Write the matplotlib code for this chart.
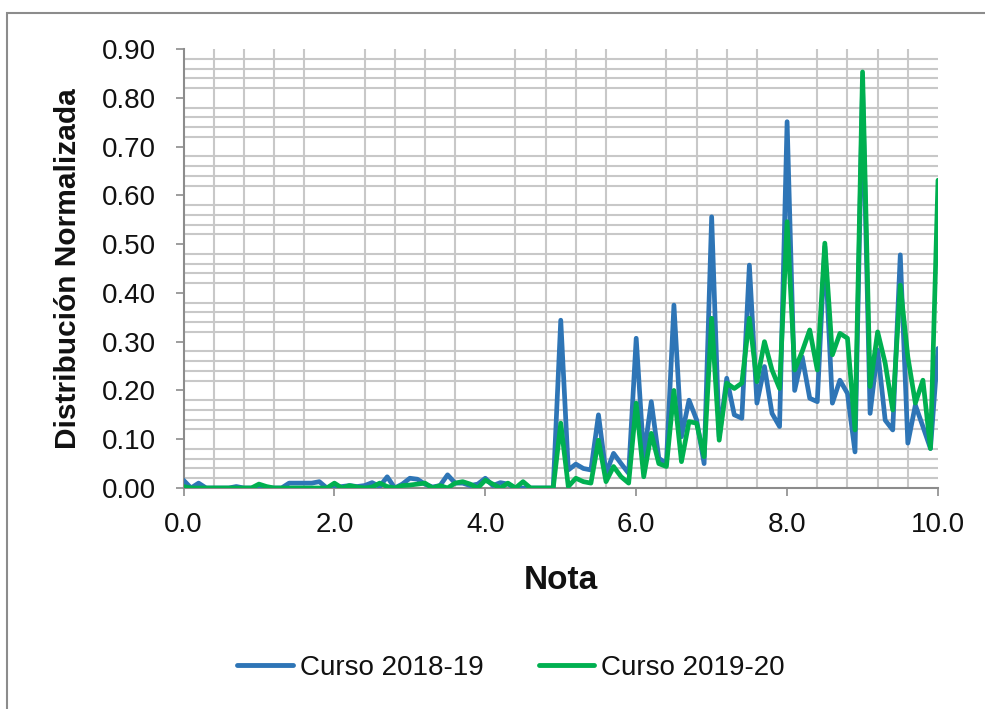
import numpy as np
import matplotlib
matplotlib.use("Agg")
import matplotlib.pyplot as plt
from matplotlib.ticker import MultipleLocator, FixedLocator
from matplotlib.patches import Rectangle

# ---------------- data ----------------
notas = np.linspace(0.0, 10.0, 101)

curso_2018_19 = [
    0.016, 0.000, 0.010, 0.000, 0.000, 0.000, 0.000, 0.003, 0.000, 0.000,   # 0.0-0.9
    0.000, 0.000, 0.000, 0.000, 0.010, 0.010, 0.010, 0.010, 0.013, 0.000,   # 1.0-1.9
    0.000, 0.003, 0.005, 0.003, 0.005, 0.011, 0.003, 0.023, 0.000, 0.008,   # 2.0-2.9
    0.020, 0.018, 0.008, 0.002, 0.005, 0.027, 0.010, 0.010, 0.005, 0.008,   # 3.0-3.9
    0.020, 0.005, 0.011, 0.008, 0.000, 0.000, 0.000, 0.000, 0.000, 0.000,   # 4.0-4.9
    0.344, 0.037, 0.049, 0.040, 0.037, 0.150, 0.030, 0.071, 0.050, 0.030,   # 5.0-5.9
    0.307, 0.064, 0.177, 0.061, 0.050, 0.375, 0.105, 0.180, 0.140, 0.050,   # 6.0-6.9
    0.556, 0.105, 0.225, 0.150, 0.143, 0.457, 0.174, 0.249, 0.153, 0.126,   # 7.0-7.9
    0.751, 0.200, 0.269, 0.184, 0.177, 0.495, 0.174, 0.221, 0.194, 0.074,   # 8.0-8.9
    0.820, 0.153, 0.283, 0.139, 0.119, 0.478, 0.092, 0.170, 0.126, 0.081,   # 9.0-9.9
    0.286,                                                                  # 10.0
]

curso_2019_20 = [
    0.003, 0.000, 0.000, 0.000, 0.000, 0.000, 0.000, 0.000, 0.000, 0.000,   # 0.0-0.9
    0.008, 0.003, 0.000, 0.000, 0.000, 0.000, 0.000, 0.000, 0.000, 0.000,   # 1.0-1.9
    0.010, 0.000, 0.005, 0.002, 0.000, 0.002, 0.010, 0.003, 0.000, 0.005,   # 2.0-2.9
    0.006, 0.008, 0.010, 0.000, 0.005, 0.000, 0.010, 0.013, 0.008, 0.000,   # 3.0-3.9
    0.016, 0.008, 0.000, 0.010, 0.000, 0.013, 0.000, 0.000, 0.000, 0.000,   # 4.0-4.9
    0.133, 0.003, 0.020, 0.013, 0.010, 0.098, 0.013, 0.044, 0.023, 0.010,   # 5.0-5.9
    0.174, 0.023, 0.112, 0.050, 0.044, 0.200, 0.054, 0.136, 0.133, 0.064,   # 6.0-6.9
    0.348, 0.098, 0.215, 0.204, 0.215, 0.348, 0.218, 0.300, 0.242, 0.204,   # 7.0-7.9
    0.546, 0.242, 0.280, 0.324, 0.242, 0.502, 0.273, 0.317, 0.307, 0.119,   # 8.0-8.9
    0.853, 0.208, 0.320, 0.256, 0.160, 0.416, 0.269, 0.174, 0.221, 0.081,   # 9.0-9.9
    0.631,                                                                  # 10.0
]

series_labels = ["Curso 2018-19", "Curso 2019-20"]
x_ticks = [0.0, 2.0, 4.0, 6.0, 8.0, 10.0]
y_ticks = [0.0, 0.1, 0.2, 0.3, 0.4, 0.5, 0.6, 0.7, 0.8, 0.9]

# ---------------- style ----------------
FONT = ["Liberation Sans", "DejaVu Sans"]
plt.rcParams["font.family"] = FONT
BLUE = "#2E75B6"
GREEN = "#00B050"
GRID = "#C8C8C8"
SPINE = "#8C8C8C"
TXT = "#111111"

W, H = 985, 709
fig = plt.figure(figsize=(W / 100, H / 100), dpi=100)
ax = fig.add_axes([183.5 / W, 1 - 488 / H, (938 - 183.5) / W, (488 - 49) / H])

ax.plot(notas, curso_2018_19, color=BLUE, lw=3.4, label=series_labels[0],
        solid_joinstyle="round", solid_capstyle="round", zorder=3)
ax.plot(notas, curso_2019_20, color=GREEN, lw=3.4, label=series_labels[1],
        solid_joinstyle="round", solid_capstyle="round", zorder=4)

ax.set_xlim(0, 10)
ax.set_ylim(0, 0.9)

ax.xaxis.set_major_locator(FixedLocator(x_ticks))
ax.xaxis.set_minor_locator(MultipleLocator(0.4))
ax.yaxis.set_major_locator(FixedLocator(y_ticks))
ax.yaxis.set_minor_locator(MultipleLocator(0.02))
ax.set_xticklabels([f"{v:.1f}" for v in x_ticks])
ax.set_yticklabels([f"{v:.2f}" for v in y_ticks])

ax.set_axisbelow(True)
ax.grid(False, which="major")
ax.grid(True, which="minor", color=GRID, lw=1.5)

ax.tick_params(axis="both", which="major", direction="out", length=6, width=1.2,
               color=SPINE, labelsize=20, labelcolor=TXT)
ax.tick_params(axis="x", which="major", pad=11)
ax.tick_params(axis="y", which="major", pad=14)
ax.tick_params(axis="both", which="minor", length=0)

for s in ("top", "right"):
    ax.spines[s].set_visible(False)
for s in ("left", "bottom"):
    ax.spines[s].set_color(SPINE)
    ax.spines[s].set_linewidth(1.5)

ax.set_xlabel("Nota", fontsize=24, fontweight="bold", labelpad=20, color=TXT)
ax.set_ylabel("Distribución Normalizada", fontsize=21.5, fontweight="bold",
              labelpad=14, color=TXT)

leg = fig.legend(loc="center", bbox_to_anchor=(511 / W, 1 - 668 / H), ncol=2,
                 frameon=False, fontsize=20, handlelength=2.0, handletextpad=0.25,
                 columnspacing=2.0, labelcolor=TXT)
for ln in leg.get_lines():
    ln.set_linewidth(3.5)

# outer chart border
fig.patches.append(Rectangle((7 / W, -0.1), 1.2, 1 - 13 / H + 0.1,
                             transform=fig.transFigure, fill=False,
                             edgecolor="#8C8C8C", lw=1.5))

fig.savefig("out.png", dpi=100)
